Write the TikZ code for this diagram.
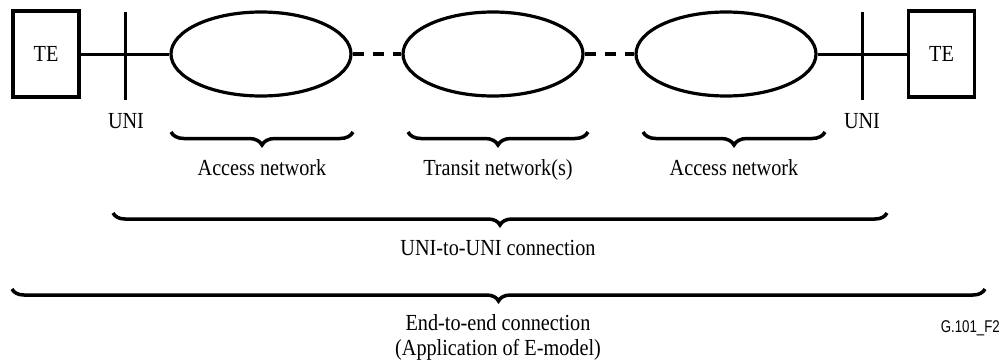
\documentclass[tikz,border=0pt]{standalone}
\usepackage{fontspec}
\setmainfont{Liberation Serif}[FakeStretch=0.88]
\newfontfamily\figsans{Liberation Sans}[FakeStretch=0.78]
\usetikzlibrary{decorations.pathreplacing,shapes.geometric}
\begin{document}
\begin{tikzpicture}[x=1pt,y=-1pt,
  tebox/.style={draw,line width=3.4pt,minimum width=66pt,minimum height=86pt,inner sep=0pt,font=\fontsize{23}{27}\selectfont},
  net/.style={draw,ellipse,line width=3.2pt,minimum width=180pt,minimum height=84pt,inner sep=0pt},
  link/.style={line width=3pt},
  dlink/.style={line width=3.4pt,dash pattern=on 11pt off 9pt},
  tick/.style={line width=3pt},
  lbl/.style={font=\fontsize{23}{27}\selectfont,anchor=base,inner sep=0pt},
  brc/.style={decorate,decoration={brace,mirror,amplitude=#1},line width=3.5pt},
]
\useasboundingbox (0,0) rectangle (1002,364);
\node[tebox] (teL) at (46,54) {TE};
\node[tebox] (teR) at (941.5,54) {TE};
\node[net] (n1) at (261,54) {};
\node[net] (n2) at (493,54) {};
\node[net] (n3) at (726,54) {};
\coordinate (uL1) at (125,12);
\coordinate (uL2) at (125,100);
\coordinate (uR1) at (862,12);
\coordinate (uR2) at (862,100);
\draw[link] (teL.east) -- (n1.west);
\draw[link] (n3.east) -- (teR.west);
\draw[dlink] (n1.east) -- (n2.west);
\draw[dlink] (n2.east) -- (n3.west);
\draw[tick] (uL1) -- (uL2);
\draw[tick] (uR1) -- (uR2);
\node[lbl] (uniL) at (126,128) {UNI};
\node[lbl] (uniR) at (862,128) {UNI};
% braces
\coordinate (b1a) at (171,132); \coordinate (b1b) at (353,132);
\coordinate (b2a) at (408,132); \coordinate (b2b) at (588,132);
\coordinate (b3a) at (643,132); \coordinate (b3b) at (825,132);
\coordinate (b4a) at (113,213); \coordinate (b4b) at (887,213);
\coordinate (b5a) at (12,289);  \coordinate (b5b) at (985,289);
\draw[brc=13pt] (b1a) -- (b1b);
\draw[brc=13pt] (b2a) -- (b2b);
\draw[brc=13pt] (b3a) -- (b3b);
\draw[brc=12pt] (b4a) -- (b4b);
\draw[brc=12pt] (b5a) -- (b5b);
\node[lbl] (l1) at (262,175) {Access network};
\node[lbl] (l2) at (498,175) {Transit network(s)};
\node[lbl] (l3) at (734,175) {Access network};
\node[lbl] (l4) at (498,255) {UNI-to-UNI connection};
\node[lbl] (l5) at (498,330) {End-to-end connection};
\node[lbl] (l6) at (498,355) {(Application of E-model)};
\node[anchor=base east,inner sep=0pt,font=\figsans\fontsize{17}{20}\selectfont] (fig) at (1000,332) {G.101\_F2};
\end{tikzpicture}
\end{document}
